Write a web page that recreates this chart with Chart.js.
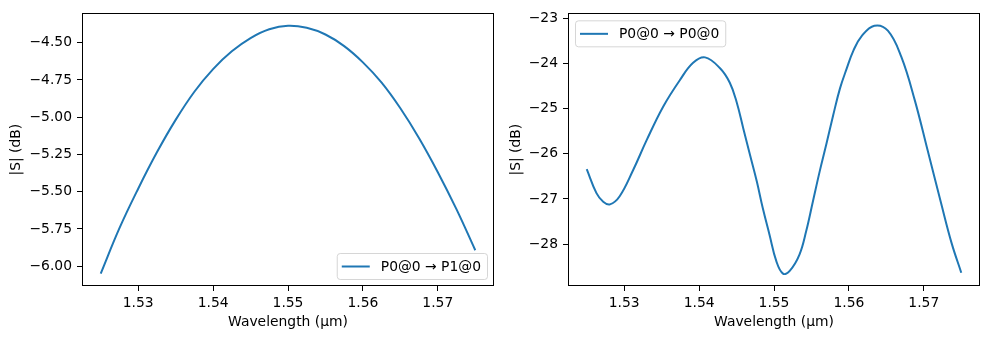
<!DOCTYPE html>
<html>
<head>
<meta charset="utf-8">
<script src="https://cdn.jsdelivr.net/npm/chart.js@4.4.0/dist/chart.umd.min.js"></script>
<style>
  body { margin: 0; background: #fff; }
  .wrap { position: relative; width: 990px; height: 339px; }
  canvas { position: absolute; top: 0; }
</style>
</head>
<body>
<div class="wrap">
  <canvas id="left" width="495" height="339" style="left:0"></canvas>
  <canvas id="right" width="495" height="339" style="left:495px"></canvas>
</div>
<script>
// transmission P0@0 -> P1@0
const wlThrough = [1.525, 1.5275, 1.53, 1.5325, 1.535, 1.5375, 1.54, 1.5425, 1.545, 1.5475,
  1.55, 1.5525, 1.555, 1.5575, 1.56, 1.5625, 1.565, 1.5675, 1.57, 1.5725, 1.575];
const sThrough = [-6.05, -5.745, -5.480, -5.236, -5.018, -4.829, -4.677, -4.558, -4.469, -4.410,
  -4.386, -4.400, -4.445, -4.523, -4.632, -4.768, -4.940, -5.141, -5.369, -5.619, -5.893];

// reflection P0@0 -> P0@0
const wlReflect = [1.525, 1.5263, 1.5272, 1.5281, 1.5294, 1.5312, 1.533, 1.5352, 1.5374, 1.5392,
  1.5408, 1.5428, 1.5441, 1.545, 1.5459, 1.5468, 1.5477, 1.5485, 1.5494, 1.5503, 1.5512,
  1.5521, 1.5534, 1.5543, 1.5552, 1.5561, 1.557, 1.5579, 1.5588, 1.5597, 1.5606, 1.5617,
  1.5634, 1.5652, 1.567, 1.5688, 1.5705, 1.5723, 1.5737, 1.575];
const sReflect = [-26.34, -26.87, -27.06, -27.12, -26.94, -26.36, -25.70, -24.96, -24.38, -23.99,
  -23.87, -24.11, -24.43, -24.85, -25.44, -26.03, -26.61, -27.20, -27.79, -28.37, -28.65,
  -28.59, -28.23, -27.71, -27.05, -26.39, -25.78, -25.15, -24.56, -24.12, -23.72, -23.40,
  -23.17, -23.28, -23.86, -24.82, -25.92, -27.09, -27.97, -28.63];

const wlTicks = [1.53, 1.54, 1.55, 1.56, 1.57];
const throughTicks = [-4.5, -4.75, -5, -5.25, -5.5, -5.75, -6];
const reflectTicks = [-23, -24, -25, -26, -27, -28];

const BLUE = "#1f77b4";
const font = { family: "'DejaVu Sans'", size: 13.89 };

function fmt(v, d) {
  return v.toFixed(d).replace("-", "\u2212");
}

// matplotlib style 5% margins
function range(arr) {
  const lo = Math.min(...arr), hi = Math.max(...arr);
  const m = (hi - lo) * 0.05;
  return [lo - m, hi + m];
}

// box around the axes
const frame = {
  id: "frame",
  afterDatasetsDraw(chart) {
    const a = chart.chartArea;
    const ctx = chart.ctx;
    ctx.save();
    ctx.strokeStyle = "#000";
    ctx.lineWidth = 1;
    const l = Math.round(a.left) + 0.5, t = Math.round(a.top) + 0.5;
    const r = Math.round(a.right) - 0.5, b = Math.round(a.bottom) - 0.5;
    ctx.strokeRect(l, t, r - l, b - t);
    ctx.restore();
  },
};

// legend drawn inside the axes like matplotlib
const innerLegend = {
  id: "innerLegend",
  afterDraw(chart, args, opts) {
    const a = chart.chartArea;
    const ctx = chart.ctx;
    const ds = chart.data.datasets[0];
    ctx.save();
    ctx.font = font.size + "px " + font.family;
    const tw = ctx.measureText(ds.label).width;
    const w = tw + 50, h = 26;
    const x = opts.corner === "br" ? a.right - 7 - w : a.left + 7;
    const y = opts.corner === "br" ? a.bottom - 7 - h : a.top + 7;
    ctx.beginPath();
    ctx.roundRect(x + 0.5, y + 0.5, w, h, 3);
    ctx.fillStyle = "rgba(255,255,255,0.8)";
    ctx.fill();
    ctx.strokeStyle = "rgba(204,204,204,0.8)";
    ctx.lineWidth = 1;
    ctx.stroke();
    ctx.beginPath();
    ctx.moveTo(x + 5, y + h / 2 + 0.5);
    ctx.lineTo(x + 33, y + h / 2 + 0.5);
    ctx.strokeStyle = BLUE;
    ctx.lineWidth = 2;
    ctx.stroke();
    ctx.fillStyle = "#000";
    ctx.textBaseline = "middle";
    ctx.fillText(ds.label, x + 44, y + h / 2 + 1);
    ctx.restore();
  },
};

function makeChart(id, xs, ys, label, yTicks, yDigits, yAxisW, padRight, titlePad, corner) {
  const [xMin, xMax] = range(xs);
  const [yMin, yMax] = range(ys);
  const points = xs.map((x, i) => ({ x: x, y: ys[i] }));
  return new Chart(document.getElementById(id), {
    type: "line",
    data: {
      datasets: [{
        label: label,
        data: points,
        borderColor: BLUE,
        borderWidth: 2,
        pointRadius: 0,
        tension: 0.4,
        fill: false,
      }],
    },
    options: {
      responsive: false,
      animation: false,
      devicePixelRatio: 1,
      layout: { padding: { left: 0, right: padRight, top: 11, bottom: 0 } },
      plugins: {
        legend: { display: false },
        tooltip: { enabled: false },
        innerLegend: { corner: corner },
      },
      scales: {
        x: {
          type: "linear",
          min: xMin,
          max: xMax,
          bounds: "data",
          afterBuildTicks: (s) => { s.ticks = wlTicks.map((v) => ({ value: v })); },
          afterFit: (s) => { s.height = 53; },
          grid: { drawOnChartArea: false, tickLength: 5, tickColor: "#000", tickWidth: 1 },
          border: { display: false },
          ticks: { color: "#000", font: font, padding: 4, maxRotation: 0, callback: (v) => fmt(v, 2) },
          title: { display: true, text: "Wavelength (µm)", color: "#000", font: font, padding: { top: 0, bottom: 8 } },
        },
        y: {
          type: "linear",
          min: yMin,
          max: yMax,
          bounds: "data",
          afterBuildTicks: (s) => { s.ticks = yTicks.map((v) => ({ value: v })); },
          afterFit: (s) => { s.width = yAxisW; },
          grid: { drawOnChartArea: false, tickLength: 5, tickColor: "#000", tickWidth: 1 },
          border: { display: false },
          ticks: { color: "#000", font: font, padding: 5, callback: (v) => fmt(v, yDigits) },
          title: { display: true, text: "|S| (dB)", color: "#000", font: font, padding: { top: titlePad, bottom: 0 } },
        },
      },
    },
    plugins: [frame, innerLegend],
  });
}

makeChart("left", wlThrough, sThrough, "P0@0 \u2192 P1@0", throughTicks, 2, 82, 1, 8, "br");
makeChart("right", wlReflect, sReflect, "P0@0 \u2192 P0@0", reflectTicks, 0, 73, 10, 13, "tl");
</script>
</body>
</html>
